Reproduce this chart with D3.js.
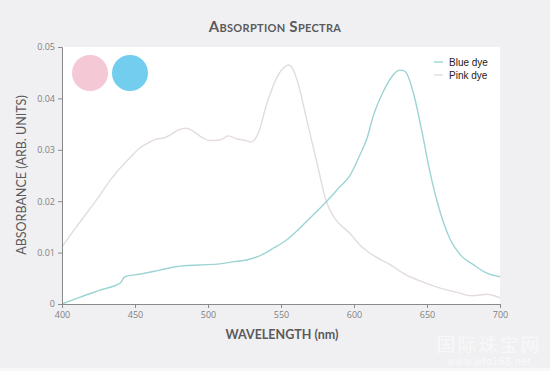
<!DOCTYPE html>
<html lang="en">
	<head>
		<meta charset="utf-8">
		<title>Absorption spectra</title>
		<script type="text/javascript" src="https://d3js.org/d3.v7.min.js"></script>
		<style type="text/css">
			body { margin: 0; background: #f0f0f2; }
			svg { display: block; }
		</style>
	</head>
	<body>
		<script type="text/javascript">

			//Width and height
			var w = 550;
			var h = 371;

			var xTicks = [400, 450, 500, 550, 600, 650, 700];
			var yTicks = [0, 0.01, 0.02, 0.03, 0.04, 0.05];

			var seriesNames = ["Blue dye", "Pink dye"];

			var pinkWave = [400, 406, 412, 419, 426, 433, 440, 447, 453, 460, 465, 470, 474, 480, 485, 490, 496, 501, 508, 514, 520, 526, 529, 534, 540, 547, 552, 555, 558, 561, 568, 575, 581, 586, 590, 597, 604, 613, 625, 636, 647, 659, 670, 681, 691, 700];
			var pinkAbs = [0.0111, 0.0135, 0.0158, 0.0185, 0.0212, 0.0241, 0.0265, 0.0286, 0.0303, 0.0315, 0.0321, 0.0323, 0.0329, 0.0339, 0.0342, 0.0336, 0.0324, 0.0318, 0.0319, 0.0327, 0.0321, 0.0318, 0.0315, 0.0329, 0.0387, 0.0440, 0.0460, 0.0465, 0.0458, 0.0436, 0.0354, 0.0270, 0.0200, 0.0170, 0.0156, 0.0138, 0.0115, 0.0095, 0.0076, 0.0056, 0.0043, 0.0031, 0.0023, 0.0016, 0.0019, 0.0012];

			var blueWave = [400, 412, 426, 440, 443, 453, 467, 479, 494, 508, 517, 527, 534, 545, 554, 563, 572, 582, 590, 597, 604, 609, 613, 620, 627, 631, 634, 636, 641, 647, 652, 659, 666, 673, 682, 691, 700];
			var blueAbs = [0, 0.0013, 0.0027, 0.0041, 0.0053, 0.0058, 0.0066, 0.0073, 0.0076, 0.0078, 0.0082, 0.0086, 0.0092, 0.0109, 0.0125, 0.0148, 0.0173, 0.0202, 0.0227, 0.0249, 0.0290, 0.0323, 0.0364, 0.0413, 0.0446, 0.0455, 0.0454, 0.0449, 0.0407, 0.0329, 0.0257, 0.0179, 0.0125, 0.0095, 0.0076, 0.0060, 0.0053];

			var colors = { "Blue dye": "#9dd4d4", "Pink dye": "#e3dbdf" };

			var margin = { left: 62, right: 50, top: 47, bottom: 67 };

			var x = d3.scaleLinear().domain([400, 700]).range([margin.left, w - margin.right]);
			var y = d3.scaleLinear().domain([0, 0.05]).range([h - margin.bottom, margin.top]);

			//Create SVG element
			var svg = d3.select("body")
						.append("svg")
						.attr("width", w)
						.attr("height", h);

			svg.append("rect")
			   .attr("x", 0).attr("y", 0).attr("width", w).attr("height", h)
			   .attr("fill", "#f0f0f2");
			svg.append("rect")
			   .attr("x", 0).attr("y", 368).attr("width", w).attr("height", 3)
			   .attr("fill", "#f8f8f9");

			// plot area
			svg.append("rect")
			   .attr("x", x(400)).attr("y", y(0.05))
			   .attr("width", x(700) - x(400)).attr("height", y(0) - y(0.05))
			   .attr("fill", "#ffffff");

			// title
			svg.append("text")
			   .attr("x", 275).attr("y", 32)
			   .attr("text-anchor", "middle")
			   .attr("font-family", "Lato, sans-serif")
			   .attr("font-weight", "bold")
			   .attr("font-size", "15px")
			   .attr("font-variant", "small-caps")
			   .attr("letter-spacing", "0.3px")
			   .attr("fill", "#5a5a5c")
			   .text("Absorption Spectra");

			// dye swatches
			var swatch = [["#f5c8d6", 90], ["#72cdef", 130]];
			svg.selectAll("circle.sw")
			   .data(swatch)
			   .enter()
			   .append("circle")
			   .attr("class", "sw")
			   .attr("cx", function(d) { return d[1]; })
			   .attr("cy", 73)
			   .attr("r", 18)
			   .attr("fill", function(d) { return d[0]; });

			// lines
			var line = d3.line()
						 .x(function(d) { return x(d[0]); })
						 .y(function(d) { return y(d[1]); })
						 .curve(d3.curveMonotoneX);

			var pinkData = d3.zip(pinkWave, pinkAbs);
			var blueData = d3.zip(blueWave, blueAbs);

			svg.append("path")
			   .datum(pinkData)
			   .attr("d", line)
			   .attr("fill", "none")
			   .attr("stroke", colors["Pink dye"])
			   .attr("stroke-width", 1.4);

			svg.append("path")
			   .datum(blueData)
			   .attr("d", line)
			   .attr("fill", "none")
			   .attr("stroke", colors["Blue dye"])
			   .attr("stroke-width", 1.4);

			// axes
			var xAxis = d3.axisBottom(x).tickValues(xTicks).tickSize(4).tickPadding(4);
			var yAxis = d3.axisLeft(y).tickValues(yTicks).tickSize(4).tickPadding(3)
						  .tickFormat(function(d) { return d === 0 ? "0" : d3.format(".2f")(d); });

			var gx = svg.append("g")
						.attr("transform", "translate(0," + y(0) + ")")
						.call(xAxis);
			var gy = svg.append("g")
						.attr("transform", "translate(" + x(400) + ",0)")
						.call(yAxis);

			[gx, gy].forEach(function(g) {
				g.selectAll("path, line").attr("stroke", "#8a8a8c");
				g.selectAll("text")
				 .attr("font-family", "'Open Sans', sans-serif")
				 .attr("font-size", "9px")
				 .attr("fill", "#808082");
			});

			// axis titles
			svg.append("text")
			   .attr("x", 282).attr("y", 339)
			   .attr("text-anchor", "middle")
			   .attr("font-family", "Lato, sans-serif")
			   .attr("font-weight", "bold")
			   .attr("font-size", "12.5px")
			   .attr("fill", "#5a5a5c")
			   .text("WAVELENGTH (nm)");

			svg.append("text")
			   .attr("transform", "translate(26,175) rotate(-90)")
			   .attr("text-anchor", "middle")
			   .attr("font-family", "Lato, sans-serif")
			   .attr("font-size", "12.5px")
			   .attr("fill", "#5a5a5c")
			   .text("ABSORBANCE (ARB. UNITS)");

			// legend
			var legend = svg.selectAll("g.legend")
							.data(seriesNames)
							.enter()
							.append("g")
							.attr("class", "legend")
							.attr("transform", function(d, i) {
								return "translate(434," + (62 + i * 13) + ")";
							});
			legend.append("line")
				  .attr("x1", 0).attr("x2", 9)
				  .attr("stroke", function(d) { return colors[d]; })
				  .attr("stroke-width", 1.4);
			legend.append("text")
				  .attr("x", 15).attr("y", 3.5)
				  .attr("font-family", "'Liberation Sans', Arial, sans-serif")
				  .attr("font-size", "10px")
				  .attr("fill", "#222")
				  .text(function(d) { return d; });

			// watermark
			svg.append("text")
			   .attr("x", 489).attr("y", 352)
			   .attr("text-anchor", "middle")
			   .attr("font-family", "'Noto Sans CJK SC', sans-serif")
			   .attr("font-size", "19px")
			   .attr("letter-spacing", "2px")
			   .attr("fill", "#ffffff")
			   .attr("fill-opacity", 0.55)
			   .text("国际珠宝网");
			svg.append("text")
			   .attr("x", 489).attr("y", 365)
			   .attr("text-anchor", "middle")
			   .attr("font-family", "'DejaVu Sans', sans-serif")
			   .attr("font-size", "10px")
			   .attr("fill", "#ffffff")
			   .attr("fill-opacity", 0.55)
			   .text("www.wto168.net");

		</script>
	</body>
</html>
